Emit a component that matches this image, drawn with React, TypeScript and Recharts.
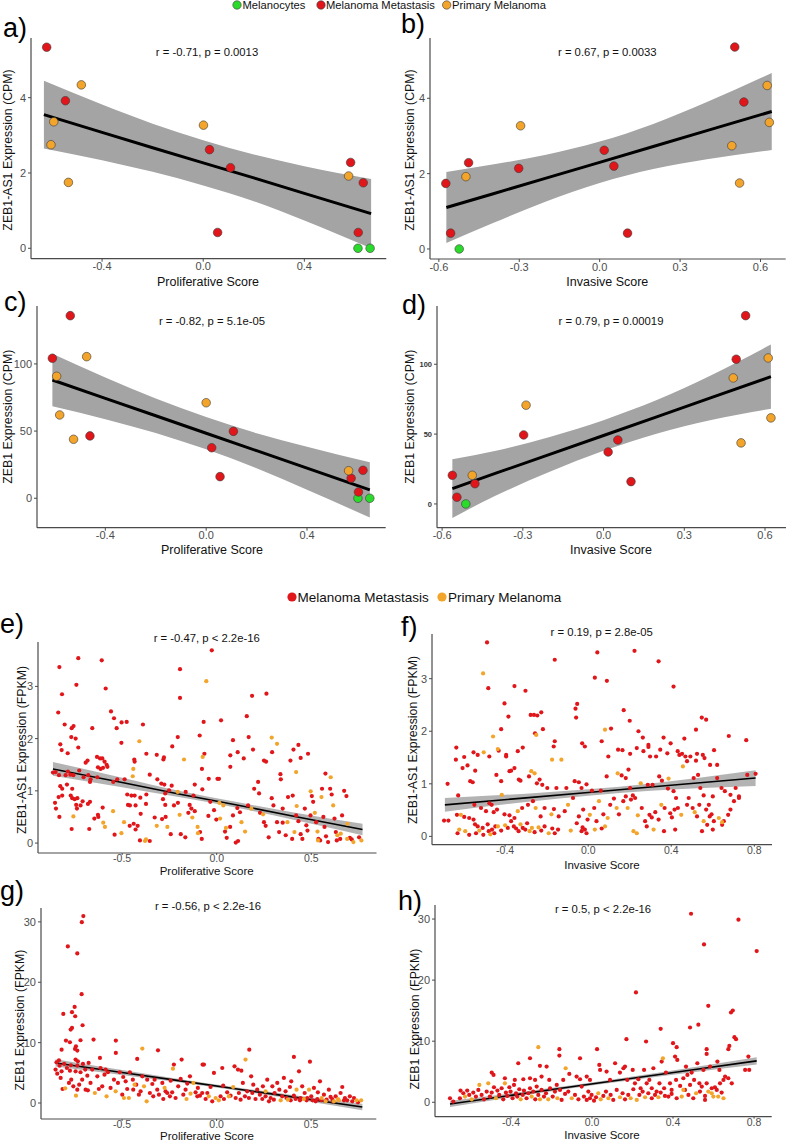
import React from 'react';
import { ComposedChart, Scatter, Line, Area, XAxis, YAxis } from 'recharts';

type Pt = [number, number];
type Band = [number, number, number, number]; // x, lower, fit, upper

// ---------- Panel a : ZEB1-AS1 (CPM) vs Proliferative Score ----------
const aMetastasis: Pt[] = [[-0.619,5.34],[-0.545,3.92],[0.025,2.62],[0.108,2.14],[0.057,0.42],[0.583,2.28],[0.633,1.74],[0.613,0.42]];
const aPrimary: Pt[] = [[-0.482,4.34],[-0.591,3.36],[-0.602,2.75],[-0.533,1.75],[0.001,3.27],[0.575,1.92]];
const aMelanocytes: Pt[] = [[0.612,0],[0.66,0]];
const aBand: Band[] = [[-0.63,2.65,3.55,4.45],[-0.4,2.34,3.08,3.82],[-0.2,2.03,2.67,3.31],[0,1.67,2.27,2.87],[0.2,1.25,1.87,2.49],[0.4,0.74,1.46,2.18],[0.664,0,0.92,1.84]];

// ---------- Panel b : ZEB1-AS1 (CPM) vs Invasive Score ----------
const bMetastasis: Pt[] = [[0.504,5.36],[0.538,3.9],[0.017,2.62],[0.053,2.2],[-0.302,2.14],[-0.489,2.29],[-0.574,1.74],[-0.556,0.42],[0.104,0.42]];
const bPrimary: Pt[] = [[0.625,4.34],[0.633,3.36],[0.493,2.74],[0.522,1.75],[-0.295,3.27],[-0.499,1.92]];
const bMelanocytes: Pt[] = [[-0.524,0]];
const bBand: Band[] = [[-0.572,0.16,1.1,2.04],[-0.4,0.68,1.46,2.24],[-0.2,1.26,1.88,2.5],[0,1.75,2.3,2.85],[0.2,2.12,2.72,3.32],[0.4,2.38,3.14,3.9],[0.642,2.63,3.65,4.67]];

// ---------- Panel c : ZEB1 (CPM) vs Proliferative Score ----------
const cMetastasis: Pt[] = [[-0.539,135.9],[-0.61,104.2],[-0.461,46.4],[0.108,49.8],[0.022,37.6],[0.055,16.1],[0.622,20.8],[0.575,14.9],[0.604,4.7]];
const cPrimary: Pt[] = [[-0.474,105.4],[-0.593,90.8],[-0.581,62],[-0.526,43.9],[0,71.1],[0.565,20.5]];
const cMelanocytes: Pt[] = [[0.602,0],[0.649,0]];
const cBand: Band[] = [[-0.61,68.4,88,107.6],[-0.4,58.9,74.4,89.9],[-0.2,48.6,61.4,74.2],[0,36.4,48.4,60.4],[0.2,22.4,35.4,48.4],[0.4,6.4,22.4,38.4],[0.649,-14.4,6.2,26.8]];

// ---------- Panel d : ZEB1 (CPM) vs Invasive Score ----------
const dMetastasis: Pt[] = [[0.528,134.8],[0.493,103.6],[-0.297,49.4],[0.053,45.8],[0.017,37.2],[0.102,16],[-0.562,20.5],[-0.478,14.5],[-0.545,4.8]];
const dPrimary: Pt[] = [[0.612,104.5],[0.482,90.2],[0.622,61.6],[0.511,43.7],[-0.288,70.7],[-0.488,20.5]];
const dMelanocytes: Pt[] = [[-0.512,0]];
const dBand: Band[] = [[-0.562,-10,11,32],[-0.4,6,22,38],[-0.2,23,35.5,48],[0,38,49,60],[0.2,50.5,62.5,74.5],[0.4,60.1,76.1,92.1],[0.622,68.1,91.1,114.1]];

// ---------- Panel e : ZEB1-AS1 (FPKM) vs Proliferative Score ----------
const eMetastasis: Pt[] = [[-0.026,3.69],[-0.732,3.54],[-0.608,3.5],[-0.832,3.37],[-0.194,3.33],[-0.742,3.03],[-0.818,2.85],[-0.587,2.96],[-0.194,2.78],[0.263,2.86],[0.187,2.82],[-0.838,2.5],[-0.559,2.52],[-0.543,2.39],[-0.529,2.2],[-0.476,2.32],[-0.503,2.31],[-0.804,2.27],[-0.757,2.24],[-0.767,2.2],[-0.658,2.2],[-0.39,2.27],[0.023,2.35],[-0.069,2.32],[0.159,2.43],[-0.769,2.03],[-0.746,2.0],[-0.504,1.92],[-0.206,2.03],[-0.09,2.06],[0.169,2.03],[0.086,1.97],[-0.827,1.89],[-0.82,1.78],[-0.788,1.72],[-0.732,1.83],[-0.633,1.65],[-0.617,1.62],[-0.605,1.62],[-0.683,1.58],[-0.693,1.54],[-0.582,1.5],[-0.372,1.71],[-0.317,1.69],[-0.436,1.6],[-0.434,1.56],[-0.282,1.6],[-0.279,1.64],[-0.235,1.85],[-0.065,1.71],[-0.042,1.23],[0.004,1.23],[0.012,1.23],[0.072,1.68],[0.072,1.46],[0.111,1.74],[0.143,1.62],[0.192,1.79],[0.25,1.58],[0.261,1.56],[0.39,1.58],[0.406,1.79],[0.432,1.88],[0.444,1.63],[0.483,1.71],[0.293,1.74],[0.337,1.32],[0.339,1.22],[-0.866,1.35],[-0.852,1.36],[-0.834,1.3],[-0.799,1.3],[-0.787,1.37],[-0.774,1.31],[-0.758,1.3],[-0.727,1.39],[-0.679,1.3],[-0.631,1.26],[-0.614,1.42],[-0.601,1.44],[-0.593,1.56],[-0.628,1.45],[-0.578,1.46],[-0.67,1.17],[-0.704,1.26],[-0.827,1.09],[-0.817,1.04],[-0.792,1.12],[-0.764,1.04],[-0.772,0.91],[-0.764,0.86],[-0.751,0.84],[-0.737,0.86],[-0.743,0.73],[-0.709,0.8],[-0.681,0.75],[-0.67,0.79],[-0.836,0.88],[-0.817,0.91],[-0.855,0.77],[-0.832,0.5],[-0.767,0.27],[-0.674,0.27],[-0.603,0.68],[-0.626,0.5],[-0.54,0.16],[-0.547,1.17],[-0.526,1.22],[-0.487,1.22],[-0.473,0.93],[-0.451,0.91],[-0.459,0.72],[-0.434,0.91],[-0.469,0.73],[-0.429,0.72],[-0.46,0.33],[-0.439,0.37],[-0.418,0.33],[-0.429,0.26],[-0.406,0.05],[-0.404,0.87],[-0.372,0.93],[-0.374,0.75],[-0.402,0.56],[-0.328,0.49],[-0.354,1.31],[-0.314,1.22],[-0.293,1.14],[-0.277,1.12],[-0.272,0.95],[-0.284,0.84],[-0.272,0.73],[-0.226,0.72],[-0.205,0.77],[-0.252,1.01],[-0.238,1.1],[-0.289,0.46],[-0.27,0.5],[-0.243,0.17],[-0.19,0.17],[-0.166,0.11],[-0.15,0.58],[-0.143,0.73],[-0.134,0.66],[-0.116,0.61],[-0.123,0.91],[-0.164,0.98],[-0.116,1.12],[-0.076,1.03],[-0.078,1.42],[-0.088,0.21],[-0.079,0.08],[-0.044,0.52],[-0.034,0.79],[-0.014,0.63],[-0.002,0.45],[0.044,0.22],[0.053,0.1],[0.071,0.31],[0.086,0.53],[0.109,0.67],[0.123,0.59],[0.113,0.04],[0.101,0.01],[0.166,0.72],[0.198,1.04],[0.219,1.17],[0.224,0.95],[0.229,0.58],[0.25,0.4],[0.259,0.33],[0.275,0.11],[0.291,0.86],[0.3,0.72],[0.319,0.4],[0.33,0.21],[0.349,0.66],[0.349,0.39],[0.365,0.15],[0.377,0.88],[0.402,0.91],[0.399,0.08],[0.42,0.53],[0.432,0.42],[0.444,0.17],[0.453,0.08],[0.466,0.66],[0.474,0.34],[0.48,0.24],[0.496,0.53],[0.503,0.9],[0.51,0.79],[0.526,0.4],[0.538,0.08],[0.547,0.05],[0.557,1.04],[0.564,0.5],[0.57,0.31],[0.578,0.13],[0.589,0.02],[0.575,1.33],[0.6,1.04],[0.608,0.93],[0.623,0.47],[0.63,0.21],[0.635,0.05],[0.663,0.53],[0.674,1.0],[0.686,0.9],[0.704,0.1],[0.753,0.11],[0.653,0.08],[0.714,0.07],[-0.354,0.04],[-0.628,0.54],[-0.647,0.47],[-0.739,0.66],[-0.72,0.72],[-0.85,0.66],[-0.667,1.22]];
const ePrimary: Pt[] = [[-0.055,3.1],[-0.409,1.95],[0.291,2.02],[0.319,1.9],[-0.173,1.6],[-0.074,1.65],[0.42,1.36],[-0.758,0.51],[-0.591,0.31],[-0.548,0.61],[-0.504,0.19],[-0.441,1.42],[-0.444,1.28],[-0.379,0.04],[-0.317,0.33],[-0.206,0.98],[-0.196,0.54],[-0.261,0.31],[-0.129,0.49],[-0.101,0.31],[0.014,0.77],[0.035,0.72],[0.018,0.47],[0.131,0.4],[0.15,0.22],[0.183,0.66],[0.411,0.21],[0.423,0.71],[0.497,0.99],[0.519,0.58],[0.533,0.22],[0.554,0.88],[0.603,1.26],[0.616,0.72],[0.656,0.18],[0.691,0.37],[0.723,0.02],[0.765,0.05],[0.638,0.15],[0.69,0.08],[0.536,0.05],[0.374,0.4],[0.245,0.55],[0.049,0.29],[-0.099,0.19],[-0.374,0.07],[-0.49,0.4],[-0.6,0.39]];
const eBand: Band[] = [[-0.866,1.29,1.42,1.55],[-0.5,1.07,1.16,1.25],[-0.2,0.88,0.94,1.0],[0.1,0.68,0.735,0.79],[0.4,0.45,0.52,0.59],[0.771,0.15,0.26,0.37]];

// ---------- Panel f : ZEB1-AS1 (FPKM) vs Invasive Score ----------
const fMetastasis: Pt[] = [[-0.487,3.69],[0.044,3.5],[0.223,3.53],[-0.161,3.36],[0.339,3.33],[0.032,3.02],[0.09,2.96],[-0.355,2.86],[-0.481,2.82],[-0.302,2.77],[0.411,2.85],[-0.403,2.53],[-0.053,2.52],[-0.061,2.43],[-0.058,2.26],[-0.384,2.28],[-0.277,2.31],[-0.261,2.31],[-0.245,2.3],[-0.226,2.36],[0.171,2.4],[0.2,2.2],[0.547,2.26],[0.568,2.22],[-0.419,2.04],[-0.218,2.04],[-0.256,1.96],[0.11,2.05],[0.242,2.0],[0.263,1.88],[0.29,1.74],[0.29,1.7],[0.363,1.88],[0.463,1.86],[0.519,2.03],[0.677,1.91],[0.761,1.83],[-0.476,1.52],[-0.635,1.69],[-0.597,1.51],[-0.552,1.6],[-0.532,1.55],[-0.431,1.63],[-0.395,1.55],[-0.395,1.52],[-0.339,1.62],[-0.315,1.69],[-0.166,1.71],[-0.161,1.81],[-0.029,1.77],[-0.016,1.71],[0.065,1.81],[0.097,1.52],[0.144,1.65],[0.165,1.64],[0.202,1.57],[0.234,1.68],[0.266,1.62],[0.298,1.52],[0.327,1.52],[0.347,1.65],[0.381,1.58],[0.397,1.77],[0.431,1.62],[0.439,1.55],[0.452,1.57],[0.476,1.43],[0.492,1.52],[0.519,1.44],[0.524,1.57],[0.552,1.55],[0.56,1.49],[0.587,1.36],[0.606,1.64],[0.621,1.36],[-0.581,1.35],[-0.544,1.25],[-0.442,1.17],[-0.419,1.05],[-0.379,1.24],[-0.371,1.25],[-0.355,1.3],[-0.334,1.08],[-0.326,1.06],[-0.285,1.14],[-0.247,1.01],[-0.234,1.08],[-0.221,0.98],[-0.197,0.92],[-0.153,0.92],[-0.105,0.92],[-0.065,1.05],[-0.045,1.03],[-0.032,0.92],[-0.008,0.99],[0.018,0.87],[0.061,0.87],[0.089,1.14],[0.161,1.16],[0.181,1.11],[0.194,1.27],[0.202,0.92],[0.215,0.78],[0.226,0.73],[0.287,0.98],[0.31,0.98],[0.342,1.14],[0.355,1.06],[0.384,0.91],[0.411,0.86],[0.423,0.73],[0.468,1.52],[0.508,1.11],[0.529,1.17],[0.54,0.92],[0.556,0.78],[0.581,0.6],[0.6,0.76],[0.621,1.11],[0.642,0.92],[0.658,0.86],[0.685,0.79],[0.71,0.92],[0.726,0.73],[0.766,1.17],[0.806,1.19],[-0.677,1.0],[-0.637,1.46],[-0.605,1.3],[-0.568,1.05],[-0.556,1.03],[-0.694,0.3],[-0.673,0.3],[-0.626,0.78],[-0.597,0.37],[-0.573,0.35],[-0.552,0.32],[-0.545,0.23],[-0.532,0.19],[-0.508,0.16],[-0.484,0.23],[-0.479,0.1],[-0.463,0.13],[-0.447,0.19],[-0.629,0.06],[-0.573,0.03],[-0.54,0.06],[-0.505,0.03],[-0.452,0.06],[-0.419,0.11],[-0.387,0.16],[-0.371,0.29],[-0.358,0.19],[-0.347,0.15],[-0.335,0.1],[-0.315,0.16],[-0.303,0.13],[-0.294,0.25],[-0.258,0.08],[-0.226,0.11],[-0.21,0.19],[-0.173,0.15],[-0.161,0.06],[-0.145,0.13],[-0.032,0.1],[-0.027,0.17],[-0.016,0.13],[-0.008,0.06],[0.065,0.15],[0.282,0.19],[0.365,0.1],[0.419,0.13],[0.548,0.1],[0.573,0.22],[0.6,0.13],[0.645,0.22],[-0.632,0.41],[-0.548,0.6],[-0.516,0.54],[-0.492,0.48],[-0.476,0.63],[-0.465,0.6],[-0.455,0.46],[-0.439,0.51],[-0.403,0.42],[-0.379,0.4],[-0.355,0.35],[-0.318,0.54],[-0.29,0.6],[-0.266,0.67],[-0.229,0.38],[-0.21,0.54],[-0.165,0.52],[-0.142,0.38],[-0.113,0.48],[-0.073,0.73],[-0.055,0.25],[-0.045,0.38],[-0.024,0.51],[-0.003,0.32],[0.029,0.54],[0.04,0.29],[0.073,0.42],[0.106,0.6],[0.124,0.72],[0.148,0.42],[0.169,0.67],[0.181,0.76],[0.206,0.7],[0.258,0.54],[0.274,0.29],[0.295,0.41],[0.306,0.36],[0.323,0.46],[0.339,0.32],[0.368,0.54],[0.395,0.44],[0.403,0.36],[0.416,0.51],[0.432,0.54],[0.476,0.6],[0.484,0.73],[0.503,0.54],[0.524,0.38],[0.535,0.6],[0.568,0.51],[0.585,0.38],[0.594,0.42],[0.605,0.29],[0.653,0.29],[0.674,0.41],[0.685,0.51],[0.702,0.67],[0.726,0.76]];
const fPrimary: Pt[] = [[-0.506,3.1],[0.081,2.03],[-0.25,1.93],[-0.458,1.9],[-0.503,1.6],[-0.435,1.66],[-0.129,1.46],[-0.274,1.24],[-0.258,1.2],[-0.174,1.46],[0.142,1.2],[0.253,1.01],[0.387,1.1],[0.456,1.33],[-0.613,0.41],[-0.621,0.13],[-0.592,0.1],[-0.524,0.11],[-0.471,0.04],[-0.435,0.19],[-0.4,0.21],[-0.326,0.23],[-0.282,0.1],[-0.271,0.16],[-0.239,0.17],[-0.19,0.06],[-0.084,0.11],[0.032,0.13],[0.081,0.19],[0.218,0.1],[0.234,0.06],[0.315,0.13],[0.645,0.27],[-0.416,0.79],[-0.339,0.48],[-0.253,0.54],[-0.177,0.42],[-0.097,0.6],[0.008,0.41],[0.052,0.67],[0.094,0.35],[0.137,0.54],[0.19,0.54],[0.239,0.4],[0.352,0.6],[0.448,0.41],[0.513,0.46],[0.556,0.29],[0.629,0.35]];
const fBand: Band[] = [[-0.69,0.47,0.6,0.73],[-0.3,0.653,0.733,0.813],[0,0.775,0.835,0.895],[0.3,0.868,0.938,1.008],[0.806,0.96,1.11,1.26]];

// ---------- Panel g : ZEB1 (FPKM) vs Proliferative Score ----------
const gMetastasis: Pt[] = [[-0.705,30.96],[-0.713,29.96],[-0.787,25.93],[-0.737,24.77],[-0.714,18.02],[-0.709,12.88],[-0.751,15.92],[-0.811,14.76],[-0.765,15.04],[-0.748,14.37],[-0.765,12.44],[-0.772,12.16],[-0.72,10.39],[-0.797,10.34],[-0.651,10.5],[-0.533,10.34],[-0.776,10.06],[-0.82,8.84],[-0.744,9.4],[-0.749,8.96],[-0.737,8.68],[-0.31,8.73],[-0.533,8.29],[0.173,8.84],[0.409,7.63],[0.494,6.85],[-0.185,7.19],[-0.42,7.3],[-0.617,7.46],[-0.746,7.19],[-0.734,6.91],[-0.677,6.63],[-0.834,7.08],[-0.847,6.74],[-0.831,6.19],[-0.806,6.47],[-0.771,6.25],[-0.792,5.8],[-0.737,6.19],[-0.707,6.47],[-0.776,5.36],[-0.82,5.25],[-0.746,5.25],[-0.72,5.09],[-0.695,5.53],[-0.684,4.53],[-0.658,5.53],[-0.631,4.42],[-0.614,5.8],[-0.587,5.53],[-0.575,5.09],[-0.593,4.7],[-0.543,3.87],[-0.513,5.09],[-0.494,4.31],[-0.481,3.59],[-0.459,5.09],[-0.443,3.87],[-0.425,3.04],[-0.393,4.42],[-0.367,3.87],[-0.34,3.15],[-0.328,3.87],[-0.314,2.21],[-0.287,3.32],[-0.261,1.66],[-0.243,3.7],[-0.226,6.36],[-0.203,2.76],[-0.19,3.98],[-0.164,2.21],[-0.155,3.21],[-0.141,4.42],[-0.111,1.77],[-0.099,2.49],[-0.088,1.22],[-0.074,6.36],[-0.067,6.36],[-0.049,1.66],[-0.032,2.65],[-0.014,4.98],[0.03,5.8],[0.035,2.87],[0.056,1.77],[0.074,1.22],[0.095,6.08],[0.113,5.53],[0.131,5.36],[0.139,3.32],[0.15,1.11],[0.162,1.93],[0.183,4.42],[0.194,3.04],[0.206,0.66],[0.215,2.21],[0.229,1.38],[0.245,2.76],[0.268,3.87],[0.286,0.83],[0.295,2.76],[0.307,1.66],[0.321,3.32],[0.332,2.21],[0.347,1.11],[0.356,4.15],[0.365,1.93],[0.388,2.65],[0.395,3.59],[0.409,1.22],[0.436,5.25],[0.444,0.83],[0.453,2.76],[0.466,1.66],[0.476,0.44],[0.501,1.11],[0.515,2.49],[0.524,0.28],[0.536,1.77],[0.547,3.59],[0.568,1.38],[0.582,0.55],[0.594,2.21],[0.603,1.0],[0.616,0.28],[0.63,1.11],[0.656,1.66],[0.665,2.65],[0.679,0.83],[0.691,0.44],[0.705,1.11],[0.718,0.28],[0.748,0.11],[-0.852,5.53],[-0.843,4.86],[-0.825,4.15],[-0.815,2.32],[-0.781,3.32],[-0.769,3.87],[-0.758,2.76],[-0.737,2.21],[-0.727,3.04],[-0.711,3.87],[-0.693,2.21],[-0.681,2.1],[-0.667,3.32],[-0.623,2.32],[-0.605,2.76],[-0.561,2.49],[-0.522,3.32],[-0.499,1.38],[-0.473,2.32],[-0.441,2.21],[-0.411,1.38],[-0.402,1.93],[-0.353,1.66],[-0.335,1.11],[-0.305,1.38],[-0.282,0.66],[-0.27,1.93],[-0.247,1.11],[-0.235,1.77],[-0.217,0.83],[-0.176,1.38],[-0.102,1.11],[-0.076,1.66],[-0.058,0.66],[-0.023,0.28],[0.021,1.11],[0.039,0.66],[0.101,0.83],[0.118,1.66],[0.127,0.55],[0.171,0.83],[0.189,1.66],[0.242,0.66],[0.259,1.11],[0.277,0.28],[0.303,0.55],[0.37,0.83],[0.392,0.44],[0.418,0.66],[0.441,0.44],[0.48,0.83],[0.508,0.44],[0.533,0.66],[0.554,0.44],[0.612,0.66],[0.674,0.44],[0.727,0.83]];
const gPrimary: Pt[] = [[-0.393,9.01],[0.153,7.19],[-0.384,2.76],[-0.275,2.49],[-0.231,5.69],[-0.123,3.32],[-0.005,0.83],[0.012,0.44],[0.088,2.65],[0.259,1.93],[0.377,0.55],[0.423,2.21],[0.489,2.21],[0.556,0.83],[0.642,0.66],[0.741,0.44],[0.765,0.44],[-0.801,2.43],[-0.744,1.22],[-0.644,1.66],[-0.582,1.11],[-0.534,1.93],[-0.49,0.83],[-0.464,0.83],[-0.434,3.04],[-0.37,0.28],[-0.159,0.66],[-0.138,1.55],[-0.041,1.11],[0.065,1.11],[0.339,0.44],[0.462,0.66],[0.577,0.28],[0.621,0.28],[0.647,0.44]];
const gBand: Band[] = [[-0.852,6.03,6.63,7.23],[-0.5,4.65,5.05,5.45],[-0.2,3.42,3.7,3.98],[0.1,2.11,2.36,2.61],[0.4,0.69,1.01,1.33],[0.771,-1.21,-0.66,-0.11]];

// ---------- Panel h : ZEB1 (FPKM) vs Invasive Score ----------
const hMetastasis: Pt[] = [[0.489,30.87],[0.723,29.89],[0.553,25.85],[0.813,24.75],[0.217,17.98],[0.574,15.79],[0.686,14.7],[0.695,15.03],[0.484,12.24],[0.525,12.7],[0.339,12.02],[0.267,9.95],[0.17,10.33],[0.703,10.66],[0.711,10.33],[0.678,9.23],[0.4,9.67],[0.418,9.02],[0.566,8.69],[0.566,7.92],[0.673,8.69],[0.772,7.49],[0.756,5.3],[0.776,5.3],[0.619,6.67],[0.629,5.3],[-0.161,8.69],[-0.161,7.65],[0.025,8.69],[-0.059,7.21],[-0.306,7.21],[-0.364,6.39],[-0.257,5.96],[-0.224,5.85],[-0.495,4.86],[-0.486,4.48],[-0.43,3.93],[-0.381,3.66],[-0.339,3.77],[-0.306,3.93],[-0.281,3.66],[-0.249,4.21],[-0.211,3.66],[-0.174,2.84],[-0.142,3.66],[-0.112,4.64],[-0.076,4.21],[-0.059,3.77],[-0.026,4.21],[-0.01,3.66],[0.036,6.12],[0.04,5.3],[0.072,5.03],[0.089,3.66],[0.114,6.39],[0.138,4.86],[0.155,5.57],[0.163,5.85],[0.174,3.66],[0.201,5.3],[0.212,3.11],[0.229,3.77],[0.24,2.3],[0.257,5.3],[0.27,3.11],[0.283,3.66],[0.295,2.3],[0.303,5.57],[0.319,1.75],[0.333,3.11],[0.344,6.67],[0.356,2.3],[0.365,4.86],[0.377,0.93],[0.385,3.11],[0.393,2.02],[0.41,7.49],[0.415,3.66],[0.421,6.94],[0.435,2.68],[0.451,3.93],[0.459,2.02],[0.464,5.85],[0.471,4.48],[0.484,2.84],[0.492,4.86],[0.504,3.66],[0.52,6.39],[0.53,3.11],[0.542,2.57],[0.55,5.3],[0.558,0.38],[0.566,3.11],[0.583,5.85],[0.591,2.3],[0.607,2.46],[0.616,2.02],[0.632,3.11],[0.649,3.66],[0.657,4.21],[0.673,3.93],[0.69,3.11],[-0.701,0.66],[-0.685,0.11],[-0.652,0.66],[-0.649,1.91],[-0.635,1.48],[-0.616,1.91],[-0.606,1.2],[-0.586,1.58],[-0.573,0.93],[-0.561,2.02],[-0.545,1.2],[-0.533,0.49],[-0.52,1.75],[-0.504,0.93],[-0.495,1.58],[-0.484,2.46],[-0.467,1.91],[-0.458,1.2],[-0.446,2.3],[-0.438,0.49],[-0.425,1.58],[-0.418,1.04],[-0.408,2.46],[-0.402,1.75],[-0.392,0.66],[-0.385,2.84],[-0.375,1.48],[-0.369,0.93],[-0.359,2.13],[-0.342,1.2],[-0.336,1.91],[-0.323,0.66],[-0.314,1.48],[-0.306,2.3],[-0.29,1.75],[-0.28,0.49],[-0.273,2.57],[-0.265,1.2],[-0.249,2.02],[-0.237,0.93],[-0.227,1.48],[-0.207,2.3],[-0.194,0.93],[-0.183,1.75],[-0.158,2.02],[-0.15,0.38],[-0.133,1.37],[-0.117,1.75],[-0.084,1.2],[-0.067,0.49],[-0.051,2.57],[-0.04,0.93],[-0.026,0.38],[-0.018,1.75],[-0.01,0.66],[-0.002,1.2],[0.01,0.27],[0.02,0.82],[0.056,1.04],[0.069,1.75],[0.092,1.2],[0.105,0.38],[0.122,2.02],[0.151,1.48],[0.163,0.49],[0.179,1.2],[0.204,2.13],[0.234,1.2],[0.25,1.75],[0.278,1.48],[0.295,0.66],[0.311,1.2],[0.339,1.58],[0.36,1.04],[0.393,1.37],[0.418,0.66],[0.476,1.2],[0.5,0.66],[0.533,1.75],[0.558,1.04],[0.64,1.58]];
const hPrimary: Pt[] = [[-0.265,9.02],[-0.13,5.57],[0.35,7.2],[0.443,0.93],[0.514,1.48],[0.574,1.75],[0.599,0.93],[0.649,0.66],[-0.627,0.93],[-0.594,0.49],[-0.556,2.84],[-0.512,3.11],[-0.474,0.66],[-0.43,3.11],[-0.352,0.49],[-0.298,0.93],[-0.257,0.49],[-0.216,0.49],[-0.171,0.66],[-0.1,0.66],[0.031,1.48],[0.043,0.49],[0.081,0.66],[0.138,0.82],[0.191,0.66],[0.221,0.38],[0.262,0.82],[0.328,0.82],[0.451,2.02],[0.591,1.48],[0.623,0.93]];
const hBand: Band[] = [[-0.701,-0.77,-0.27,0.23],[-0.4,0.8,1.13,1.46],[-0.1,2.28,2.53,2.78],[0.2,3.65,3.93,4.21],[0.5,4.92,5.32,5.72],[0.813,6.18,6.78,7.38]];

// ---------- Ticks ----------
const prolTicksCPM = [-0.4, 0, 0.4];
const invTicksCPM = [-0.6, -0.3, 0, 0.3, 0.6];
const prolTicksFPKM = [-0.5, 0, 0.5];
const invTicksFPKM = [-0.4, 0, 0.4, 0.8];
const yTicksAS1CPM = [0, 2, 4];
const yTicksZEB1CPM = [0, 50, 100];
const yTicksAS1FPKM = [0, 1, 2, 3];
const yTicksZEB1FPKM = [0, 10, 20, 30];

const FONT = '"Liberation Sans", Arial, Helvetica, sans-serif';
const RED = '#E0161B';
const ORANGE = '#F3A42A';
const GREEN = '#2BDB2B';
const AX = '#4A4A4A';

type Series = { data: Pt[]; color: string };
type PanelProps = {
  box: [number, number, number, number];
  xDomain: [number, number];
  yDomain: [number, number];
  xTicks: number[];
  yTicks: number[];
  series: Series[];
  band: Band[];
  big: boolean;
  smallYTicks?: boolean;
};

function Panel(p: PanelProps) {
  const [L, T, R, B] = p.box;
  const padT = 6, padR = 4, yW = 40, xH = 24;
  const w = R - L + yW + padR;
  const h = B - T + padT + xH;
  const bandData = p.band.map((b) => ({ x: b[0], range: [b[1], b[3]], fit: b[2] }));
  const dotR = p.big ? 4.3 : 2.1;
  const mkShape = (color: string) => (props: any) => (
    <circle cx={props.cx} cy={props.cy} r={dotR} fill={color} stroke={p.big ? '#3a3a3a' : 'none'} strokeWidth={0.6} />
  );
  const scatters = p.series.map((s, i) => (
    <Scatter key={'s' + i} data={s.data.map((d) => ({ x: d[0], y: d[1] }))} shape={mkShape(s.color)} isAnimationActive={false} />
  ));
  const band = (
    <Area key="band" dataKey="range" type="monotone" fill={p.big ? '#A4A4A4' : '#808080'} fillOpacity={p.big ? 1 : 0.6} stroke="none" dot={false} activeDot={false} isAnimationActive={false} />
  );
  const line = (
    <Line key="fit" dataKey="fit" type="linear" stroke="#000" strokeWidth={p.big ? 3 : 1.6} dot={false} activeDot={false} isAnimationActive={false} />
  );
  const yTick = p.smallYTicks
    ? { fontSize: 7.5, fill: '#333', fontFamily: FONT, fontWeight: 700 }
    : { fontSize: 11, fill: '#4D4D4D', fontFamily: FONT };
  const xTick = { fontSize: p.big ? 11 : 10.5, fill: '#4D4D4D', fontFamily: FONT };
  return (
    <div style={{ position: 'absolute', left: L - yW, top: T - padT }}>
      <ComposedChart width={w} height={h} data={bandData} margin={{ top: padT, right: padR, bottom: 0, left: 0 }}>
        <XAxis type="number" dataKey="x" domain={p.xDomain} allowDataOverflow ticks={p.xTicks} interval={0}
          tickFormatter={(v: number) => v.toFixed(1)} height={xH}
          tick={xTick} tickSize={p.big ? 3 : 2} tickMargin={p.big ? 1 : 0}
          axisLine={{ stroke: AX, strokeWidth: 1.2 }} tickLine={{ stroke: AX }} />
        <YAxis type="number" dataKey="y" domain={p.yDomain} allowDataOverflow ticks={p.yTicks} interval={0}
          width={yW} tick={yTick} tickSize={3} tickMargin={2}
          axisLine={{ stroke: AX, strokeWidth: 1.2 }} tickLine={{ stroke: AX }} />
        {p.big ? [band, line, ...scatters] : [...scatters, band, line]}
      </ComposedChart>
    </div>
  );
}

const T = (props: { x: number; y: number; size: number; anchor?: string; rot?: boolean; children: React.ReactNode; color?: string }) => (
  <text x={props.x} y={props.y} fontSize={props.size} fontFamily={FONT} fill={props.color || '#111'}
    textAnchor={(props.anchor as any) || 'middle'} dominantBaseline="central"
    transform={props.rot ? `rotate(-90 ${props.x} ${props.y})` : undefined}>
    {props.children}
  </text>
);

const Lbl = ({ x, y, t }: { x: number; y: number; t: string }) => (
  <text x={x} y={y} fontSize={27} fontFamily={FONT} fill="#000">{t}</text>
);

export default function App() {
  return (
    <div style={{ position: 'absolute', left: 0, top: 0, width: 787, height: 1142, overflow: 'hidden', background: '#fff' }}>
      <Panel box={[30.7, 38, 386, 258.7]} xDomain={[-0.681, 0.724]} yDomain={[-0.276, 5.585]} xTicks={prolTicksCPM} yTicks={yTicksAS1CPM}
        series={[{ data: aMelanocytes, color: GREEN }, { data: aMetastasis, color: RED }, { data: aPrimary, color: ORANGE }]} band={aBand} big />
      <Panel box={[430, 38, 785.7, 259]} xDomain={[-0.633, 0.694]} yDomain={[-0.266, 5.6]} xTicks={invTicksCPM} yTicks={yTicksAS1CPM}
        series={[{ data: bMelanocytes, color: GREEN }, { data: bMetastasis, color: RED }, { data: bPrimary, color: ORANGE }]} band={bBand} big />
      <Panel box={[37.3, 306, 386, 527.7]} xDomain={[-0.671, 0.712]} yDomain={[-21.9, 143.1]} xTicks={prolTicksCPM} yTicks={yTicksZEB1CPM}
        series={[{ data: cMelanocytes, color: GREEN }, { data: cMetastasis, color: RED }, { data: cPrimary, color: ORANGE }]} band={cBand} big />
      <Panel box={[436.7, 306, 785.7, 527.7]} xDomain={[-0.619, 0.678]} yDomain={[-17, 141.7]} xTicks={invTicksCPM} yTicks={yTicksZEB1CPM}
        series={[{ data: dMelanocytes, color: GREEN }, { data: dMetastasis, color: RED }, { data: dPrimary, color: ORANGE }]} band={dBand} big smallYTicks />
      <Panel box={[37.5, 641.7, 376, 852.7]} xDomain={[-0.945, 0.845]} yDomain={[-0.19, 3.85]} xTicks={prolTicksFPKM} yTicks={yTicksAS1FPKM}
        series={[{ data: eMetastasis, color: RED }, { data: ePrimary, color: ORANGE }]} band={eBand} big={false} />
      <Panel box={[431.7, 634.3, 771.7, 845]} xDomain={[-0.752, 0.885]} yDomain={[-0.158, 3.85]} xTicks={invTicksFPKM} yTicks={yTicksAS1FPKM}
        series={[{ data: fMetastasis, color: RED }, { data: fPrimary, color: ORANGE }]} band={fBand} big={false} />
      <Panel box={[40.7, 908.3, 376, 1119.3]} xDomain={[-0.929, 0.845]} yDomain={[-2.65, 32.3]} xTicks={prolTicksFPKM} yTicks={yTicksZEB1FPKM}
        series={[{ data: gMetastasis, color: RED }, { data: gPrimary, color: ORANGE }]} band={gBand} big={false} />
      <Panel box={[435, 905, 771.7, 1116.7]} xDomain={[-0.775, 0.887]} yDomain={[-2.36, 32.3]} xTicks={invTicksFPKM} yTicks={yTicksZEB1FPKM}
        series={[{ data: hMetastasis, color: RED }, { data: hPrimary, color: ORANGE }]} band={hBand} big={false} />

      <svg width={787} height={1142} style={{ position: 'absolute', left: 0, top: 0, pointerEvents: 'none' }}>
        {/* top legend */}
        <circle cx={237} cy={5} r={4.2} fill={GREEN} stroke="#3a3a3a" strokeWidth={0.6} />
        <T x={242.5} y={5} size={11.2} anchor="start">Melanocytes</T>
        <circle cx={321} cy={5} r={4.2} fill={RED} stroke="#3a3a3a" strokeWidth={0.6} />
        <T x={326} y={5} size={11.2} anchor="start">Melanoma Metastasis</T>
        <circle cx={446.7} cy={5} r={4.2} fill={ORANGE} stroke="#3a3a3a" strokeWidth={0.6} />
        <T x={452} y={5} size={11.2} anchor="start">Primary Melanoma</T>

        {/* middle legend */}
        <circle cx={292} cy={597} r={4.6} fill={RED} />
        <T x={297.5} y={597} size={13.5} anchor="start">Melanoma Metastasis</T>
        <circle cx={442} cy={597} r={4.6} fill={ORANGE} />
        <T x={448} y={597} size={13.5} anchor="start">Primary Melanoma</T>

        {/* panel labels */}
        <Lbl x={3} y={37} t="a)" />
        <Lbl x={401} y={33} t="b)" />
        <Lbl x={4} y={311} t="c)" />
        <Lbl x={402} y={314} t="d)" />
        <Lbl x={0} y={633} t="e)" />
        <Lbl x={401} y={636} t="f)" />
        <Lbl x={0} y={900} t="g)" />
        <Lbl x={398} y={910} t="h)" />

        {/* annotations */}
        <T x={207} y={52} size={11.3}>r = -0.71, p = 0.0013</T>
        <T x={607.3} y={52.3} size={11.3}>r = 0.67, p = 0.0033</T>
        <T x={212} y={321} size={11.3}>r = -0.82, p = 5.1e-05</T>
        <T x={611} y={320.7} size={11.3}>r = 0.79, p = 0.00019</T>
        <T x={206.7} y={638} size={11.3}>r = -0.47, p &lt; 2.2e-16</T>
        <T x={601.7} y={632.3} size={11.3}>r = 0.19, p = 2.8e-05</T>
        <T x={208} y={906} size={11.3}>r = -0.56, p &lt; 2.2e-16</T>
        <T x={603} y={909} size={11.3}>r = 0.5, p &lt; 2.2e-16</T>

        {/* x axis titles */}
        <T x={208} y={282} size={12.5}>Proliferative Score</T>
        <T x={607.3} y={282} size={12.5}>Invasive Score</T>
        <T x={212} y={550} size={12.5}>Proliferative Score</T>
        <T x={611} y={550} size={12.5}>Invasive Score</T>
        <T x={206.7} y={871} size={11.5}>Proliferative Score</T>
        <T x={602} y={864.5} size={11.5}>Invasive Score</T>
        <T x={207} y={1136} size={11.5}>Proliferative Score</T>
        <T x={602} y={1134.5} size={11.5}>Invasive Score</T>

        {/* y axis titles */}
        <T x={8.3} y={150} size={12.3} rot>ZEB1-AS1 Expression (CPM)</T>
        <T x={410} y={150} size={12.3} rot>ZEB1-AS1 Expression (CPM)</T>
        <T x={8.3} y={416.7} size={12.3} rot>ZEB1 Expression (CPM)</T>
        <T x={410} y={416.7} size={12.3} rot>ZEB1 Expression (CPM)</T>
        <T x={21.7} y={750} size={12.3} rot>ZEB1-AS1 Expression (FPKM)</T>
        <T x={413.3} y={740} size={12.3} rot>ZEB1-AS1 Expression (FPKM)</T>
        <T x={20} y={1020} size={12.3} rot>ZEB1 Expression (FPKM)</T>
        <T x={415} y={1019} size={12.3} rot>ZEB1 Expression (FPKM)</T>
      </svg>
    </div>
  );
}
